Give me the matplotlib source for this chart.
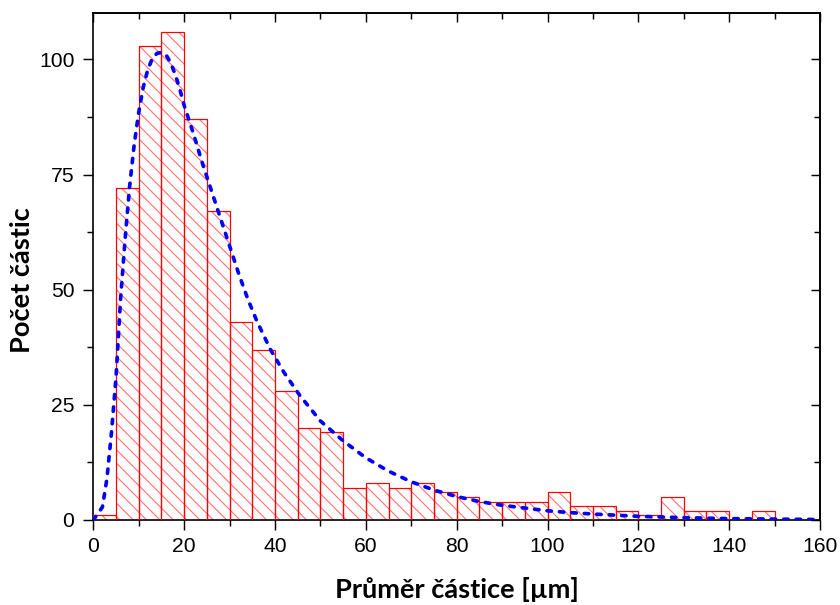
import numpy as np
import matplotlib
matplotlib.use('Agg')
import matplotlib.pyplot as plt
from matplotlib.ticker import MultipleLocator

# histogram counts, bin width 5 um starting at 0
bin_width = 5
counts = [1, 72, 103, 106, 87, 67, 43, 37, 28, 20, 19, 7, 8, 7, 8, 6,
          5, 4, 4, 4, 6, 3, 3, 2, 1, 5, 2, 2, 0, 2]

# fitted curve
fit_x = [0, 2, 3, 4, 5, 6, 7, 8, 9, 10, 11, 12, 13, 14, 15, 16, 17, 18, 19,
         20, 22, 24, 26, 28, 30, 32, 34, 36, 39, 42, 45.5, 50, 55, 60, 65,
         70, 75, 80, 85, 90, 95, 100, 105, 110, 120, 130, 140, 150, 160]
fit_y = [0, 2.8, 9, 19, 31, 48, 61, 72.5, 81.5, 88.5, 94, 97.8, 100.2, 101.3,
         101.5, 101, 99.3, 96.8, 93.7, 90, 84, 77.5, 71.5, 65.5, 59.5, 53.5,
         48, 43.2, 37, 32, 27, 21.5, 17.2, 13.5, 10.6, 8.3, 6.5, 5.1, 4.0, 3.2,
         2.6, 2.0, 1.6, 1.3, 0.8, 0.5, 0.3, 0.2, 0.1]

plt.rcParams['hatch.linewidth'] = 1.0
plt.rcParams['font.family'] = ['Liberation Sans', 'DejaVu Sans']

fig = plt.figure(figsize=(10.5, 7.5625), dpi=80)
ax = fig.add_axes([0.1111, 0.1405, 0.8651, 0.8375])

left = np.arange(len(counts)) * bin_width
# hatch in lighter red, outline in red
ax.bar(left, counts, width=bin_width, align='edge', facecolor='white',
       edgecolor='#ff7070', hatch='\\\\', linewidth=0, zorder=2)
ax.bar(left, counts, width=bin_width, align='edge', facecolor='none',
       edgecolor='red', linewidth=1.1, zorder=3)

ax.plot(fit_x, fit_y, color='blue', linewidth=3.3, linestyle=(0, (1.2, 2.2)),
        dash_capstyle='round', zorder=4)

ax.set_xlim(0, 160)
ax.set_ylim(0, 110)
ax.xaxis.set_major_locator(MultipleLocator(20))
ax.xaxis.set_minor_locator(MultipleLocator(10))
ax.yaxis.set_major_locator(MultipleLocator(25))
ax.yaxis.set_minor_locator(MultipleLocator(12.5))
ax.tick_params(which='both', direction='out', width=1.3, labelsize=19)
ax.tick_params(which='major', length=9)
ax.tick_params(which='minor', length=5)
ax.tick_params(axis='y', which='major', pad=8)
ax.tick_params(axis='x', which='major', pad=6)

# top and right ticks point inwards
top = ax.secondary_xaxis('top')
top.xaxis.set_major_locator(MultipleLocator(20))
top.xaxis.set_minor_locator(MultipleLocator(10))
top.tick_params(which='both', direction='in', labeltop=False, width=1.3)
top.tick_params(which='major', length=8)
top.tick_params(which='minor', length=5)
right = ax.secondary_yaxis('right')
right.yaxis.set_major_locator(MultipleLocator(25))
right.yaxis.set_minor_locator(MultipleLocator(12.5))
right.tick_params(which='both', direction='in', labelright=False, width=1.3)
right.tick_params(which='major', length=8)
right.tick_params(which='minor', length=5)

for sp in list(ax.spines.values()) + [top.spines['top'], right.spines['right']]:
    sp.set_linewidth(1.5)

lab_font = dict(family='Lato', weight='bold', size=24.5)
ax.set_xlabel('Průměr částice [µm]', **lab_font)
ax.set_ylabel('Počet částic', **lab_font)
ax.xaxis.set_label_coords(0.5, -0.1125)
ax.yaxis.set_label_coords(-0.081, 0.4737)

fig.savefig('out.png', dpi=80)
